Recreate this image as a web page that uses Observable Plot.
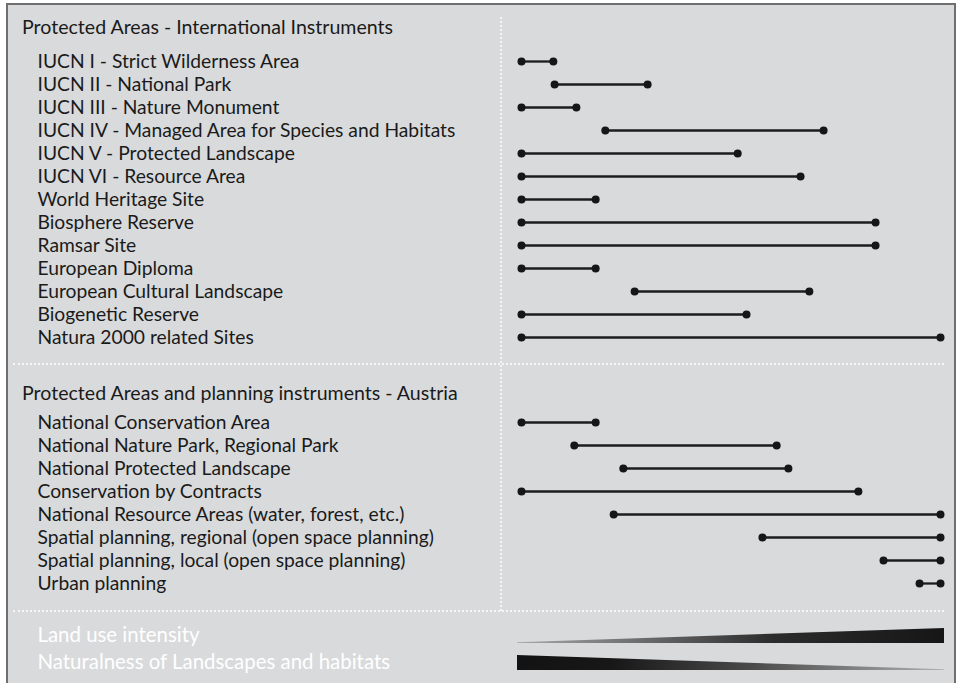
<!DOCTYPE html>
<html>
<head>
<meta charset="utf-8">
<script src="https://cdn.jsdelivr.net/npm/d3@7"></script>
<script src="https://cdn.jsdelivr.net/npm/@observablehq/plot@0.6"></script>
<style>
  html, body { margin: 0; padding: 0; background: #ffffff; width: 958px; height: 683px; overflow: hidden; }
  #frame { position: absolute; left: 6px; top: 3px; width: 946px; height: 700px;
           border: 2px solid #6f6f6f; border-bottom: none; background: #d9dadc; }
  .abs { position: absolute; line-height: 0; }
  .hdr { position: absolute; left: 22px; color: #1a1a1a; font-family: Lato, sans-serif; line-height: 24px; white-space: nowrap; }
  .vdot { position: absolute; border-left: 2px dotted #f6f6f6; width: 0; }
  .hdot { position: absolute; border-top: 2px dotted #f6f6f6; height: 0; }
  svg { overflow: visible; display: block; }
</style>
</head>
<body>
<div id="frame"></div>
<div class="vdot" style="left:500px; top:17px; height:594px;"></div>
<div class="hdot" style="left:13px; top:363px; width:931px;"></div>
<div class="hdot" style="left:13px; top:610px; width:931px;"></div>
<div id="h1" class="hdr" style="top:15px;"></div>
<div id="h2" class="hdr" style="top:381px;"></div>
<div id="p1" class="abs" style="left:0; top:45px; width:958px;"></div>
<div id="p2" class="abs" style="left:0; top:408px; width:958px;"></div>
<div id="p3" class="abs" style="left:0; top:618px; width:958px;"></div>
<script>
// ---------- data ----------
const sectionTitles = ["Protected Areas - International Instruments",
                       "Protected Areas and planning instruments - Austria"];

const intlRows = [
  "IUCN I - Strict Wilderness Area",
  "IUCN II - National Park",
  "IUCN III - Nature Monument",
  "IUCN IV - Managed Area for Species and Habitats",
  "IUCN V - Protected Landscape",
  "IUCN VI - Resource Area",
  "World Heritage Site",
  "Biosphere Reserve",
  "Ramsar Site",
  "European Diploma",
  "European Cultural Landscape",
  "Biogenetic Reserve",
  "Natura 2000 related Sites"
];
const intlStart = [0, 7.9, 0, 20, 0, 0, 0, 0, 0, 0, 27, 0, 0];
const intlEnd   = [7.6, 30.1, 13.1, 72.1, 51.6, 66.6, 17.7, 84.5, 84.5, 17.7, 68.7, 53.7, 100];

const atRows = [
  "National Conservation Area",
  "National Nature Park, Regional Park",
  "National Protected Landscape",
  "Conservation by Contracts",
  "National Resource Areas (water, forest, etc.)",
  "Spatial planning, regional (open space planning)",
  "Spatial planning, local (open space planning)",
  "Urban planning"
];
const atStart = [0, 12.6, 24.3, 0, 22, 57.5, 86.4, 95];
const atEnd   = [17.7, 60.9, 63.7, 80.4, 100, 100, 100, 100];

const wedgeLabels = ["Land use intensity", "Naturalness of Landscapes and habitats"];
const wedgeX = [0, 100];
const landUseThickness = [0.05, 1];
const naturalnessThickness = [1, 0.05];

// ---------- font fitting ----------
const FAMILY = "Lato";
const ctx = document.createElement("canvas").getContext("2d");
function fit(text, target, weight = 400) {
  ctx.font = `${weight} 100px ${FAMILY}`;
  return 100 * target / ctx.measureText(text).width;
}
const itemSize = fit("IUCN IV - Managed Area for Species and Habitats", 420);
const headSize = fit(sectionTitles[0], 372);
const wedgeSize = fit(wedgeLabels[1], 353);

document.getElementById("h1").textContent = sectionTitles[0];
document.getElementById("h2").textContent = sectionTitles[1];
document.getElementById("h1").style.fontSize = headSize + "px";
document.getElementById("h2").style.fontSize = headSize + "px";

// ---------- dumbbell panels ----------
function panel(rows, start, end, height, firstY, lastY) {
  const data = rows.map((name, i) => ({name, start: start[i], end: end[i]}));
  return Plot.plot({
    width: 958, height, margin: 0,
    style: {background: "transparent", fontFamily: FAMILY, overflow: "visible"},
    x: {domain: [0, 100], range: [521, 940], axis: null},
    y: {type: "point", domain: rows, range: [firstY, lastY], padding: 0, axis: null},
    marks: [
      Plot.ruleY(data, {y: "name", x1: "start", x2: "end", stroke: "#1c1c1c", strokeWidth: 2.3}),
      Plot.dot(data, {x: "start", y: "name", r: 4, fill: "#161616", stroke: "none"}),
      Plot.dot(data, {x: "end", y: "name", r: 4, fill: "#161616", stroke: "none"}),
      Plot.text(data, {y: "name", text: "name", frameAnchor: "left", dx: 37, textAnchor: "start",
                       fontSize: itemSize, fill: "#1a1a1a"})
    ]
  });
}
document.getElementById("p1").append(panel(intlRows, intlStart, intlEnd, 307, 12, 295));
document.getElementById("p2").append(panel(atRows, atStart, atEnd, 189, 12, 177));

// ---------- wedges ----------
function wedgeData(r, thick) {
  return wedgeX.map((x, i) => ({x, base: r + 0.92, top: r + 0.92 - thick[i] * 0.55}));
}
const labelData = wedgeLabels.map((t, i) => ({t, y: i + 0.63}));
function gradients() {
  const ns = "http://www.w3.org/2000/svg";
  const defs = document.createElementNS(ns, "defs");
  const make = (id, stops) => {
    const g = document.createElementNS(ns, "linearGradient");
    g.setAttribute("id", id);
    g.setAttribute("x1", "0"); g.setAttribute("x2", "1"); g.setAttribute("y1", "0"); g.setAttribute("y2", "0");
    for (const [o, c] of stops) {
      const s = document.createElementNS(ns, "stop");
      s.setAttribute("offset", o); s.setAttribute("stop-color", c);
      g.append(s);
    }
    defs.append(g);
  };
  make("gLand", [["0", "#a8a8a8"], ["0.3", "#6a6a6a"], ["0.6", "#2c2c2c"], ["1", "#161616"]]);
  make("gNat", [["0", "#131313"], ["0.22", "#171717"], ["0.55", "#4a4a4a"], ["1", "#b0b0b0"]]);
  return defs;
}
document.getElementById("p3").append(Plot.plot({
  width: 958, height: 65, margin: 0,
  style: {background: "transparent", fontFamily: FAMILY, overflow: "visible"},
  x: {domain: [0, 100], range: [517, 944], axis: null},
  y: {domain: [0, 2.4], range: [0, 65], axis: null},
  marks: [
    gradients,
    Plot.area(wedgeData(0, landUseThickness), {x1: "x", y1: "base", y2: "top", fill: "url(#gLand)"}),
    Plot.area(wedgeData(1, naturalnessThickness), {x1: "x", y1: "base", y2: "top", fill: "url(#gNat)"}),
    Plot.text(labelData, {y: "y", text: "t", frameAnchor: "left", dx: 37, textAnchor: "start",
                          fontSize: wedgeSize, fill: "#ffffff"})
  ]
}));
</script>
</body>
</html>
